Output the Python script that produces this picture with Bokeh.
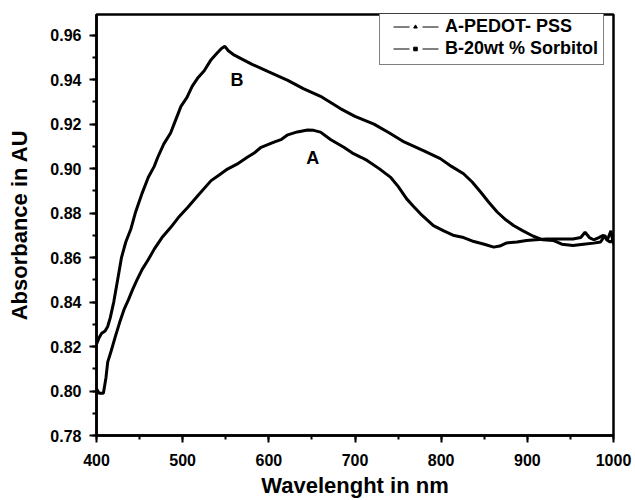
from bokeh.plotting import figure
from bokeh.models import (Range1d, SingleIntervalTicker, Legend, LegendItem,
                          NumeralTickFormatter, ColumnDataSource)
from bokeh.core.properties import value
from bokeh.embed import file_html
from bokeh.resources import INLINE

# ---- data ----
wl_a = [400, 403, 408, 411, 413, 417, 422, 427, 432, 437, 442, 447, 453, 460, 467,
        476, 486, 495, 506, 518, 533, 542, 552, 563, 575, 583, 591, 606, 614, 622,
        633, 645, 652, 660, 672, 687, 697, 707, 714, 728, 741, 750, 760, 768, 776,
        791, 803, 815, 826, 838, 850, 861, 868, 876, 888, 899, 910, 922, 940, 953,
        962, 967, 972, 977, 983, 988, 993, 997, 1000]
abs_a = [0.801, 0.799, 0.799, 0.806, 0.813, 0.818, 0.8247, 0.831, 0.8367, 0.841,
         0.8457, 0.850, 0.8547, 0.859, 0.8638, 0.869, 0.8735, 0.878, 0.8826, 0.888,
         0.8946, 0.897, 0.8998, 0.902, 0.9051, 0.907, 0.9096, 0.9119, 0.913, 0.9152,
         0.9165, 0.9174, 0.9172, 0.9164, 0.913, 0.9096, 0.907, 0.9051, 0.9037, 0.900,
         0.8962, 0.892, 0.8864, 0.883, 0.8797, 0.8744, 0.872, 0.8699, 0.869, 0.8672,
         0.866, 0.8647, 0.8652, 0.8666, 0.867, 0.8677, 0.868, 0.8684, 0.8684, 0.8684,
         0.869, 0.8714, 0.869, 0.868, 0.869, 0.870, 0.868, 0.872, 0.866]

wl_b = [400, 403, 406, 410, 413, 416, 420, 425, 429, 434, 440, 445, 453, 460, 467,
        471, 478, 486, 490, 498, 505, 511, 518, 525, 533, 540, 545, 549, 553, 560,
        580, 600, 622, 640, 660, 683, 700, 722, 740, 757, 780, 799, 812, 826, 836,
        846, 855, 865, 875, 884, 895, 907, 918, 930, 940, 953, 965, 977, 985, 990,
        992, 996, 1000]
abs_b = [0.821, 0.824, 0.826, 0.827, 0.829, 0.833, 0.840, 0.851, 0.860, 0.867,
         0.873, 0.880, 0.889, 0.896, 0.901, 0.905, 0.911, 0.916, 0.920, 0.928,
         0.932, 0.937, 0.941, 0.944, 0.949, 0.952, 0.954, 0.955, 0.953, 0.951,
         0.947, 0.9435, 0.9397, 0.936, 0.9325, 0.927, 0.9235, 0.920, 0.916, 0.912,
         0.908, 0.9045, 0.901, 0.8977, 0.894, 0.8894, 0.885, 0.8805, 0.877, 0.8744,
         0.872, 0.8696, 0.868, 0.8677, 0.866, 0.8654, 0.866, 0.8665, 0.867, 0.870,
         0.868, 0.867, 0.868]

curve_labels = ["A", "B"]
curve_label_x = [651, 563]
curve_label_y = [0.905, 0.940]

legend_labels = ["A-PEDOT- PSS", "B-20wt % Sorbitol"]

FONT = "Liberation Sans"
NAN = float("nan")

p = figure(width=635, height=500, output_backend="svg", toolbar_location=None,
           x_range=Range1d(400, 1000), y_range=Range1d(0.78, 0.9693),
           min_border_left=96, min_border_right=22, min_border_top=14,
           min_border_bottom=65)
p.background_fill_color = "white"
p.border_fill_color = "white"
p.grid.visible = False
p.outline_line_color = "black"
p.outline_line_width = 2.5

p.line(wl_a, abs_a, line_color="black", line_width=3)
p.line(wl_b, abs_b, line_color="black", line_width=3)

src = ColumnDataSource(dict(x=curve_label_x, y=curve_label_y, t=curve_labels))
p.text(x="x", y="y", text="t", source=src, text_align="center",
       text_baseline="middle", text_font=value(FONT), text_font_style="bold",
       text_font_size="18px", text_color="black")

# legend-only renderers (no visible data)
dash = "0 8 16 13 16 100"
la = p.line([NAN], [NAN], line_color="black", line_width=1, line_dash=dash)
ma = p.scatter([NAN], [NAN], marker="triangle", size=4, color="black")
lb = p.line([NAN], [NAN], line_color="black", line_width=1, line_dash=dash)
mb = p.scatter([NAN], [NAN], marker="square", size=3, color="black")

legend = Legend(items=[LegendItem(label=legend_labels[0], renderers=[la, ma]),
                       LegendItem(label=legend_labels[1], renderers=[lb, mb])],
                location=(283, 370))
legend.label_text_font = FONT
legend.label_text_font_style = "bold"
legend.label_text_font_size = "18px"
legend.label_text_color = "black"
legend.glyph_width = 60
legend.glyph_height = 9
legend.label_height = 20
legend.label_standoff = 0
legend.spacing = 1
legend.padding = 5
legend.border_line_color = "black"
legend.border_line_width = 1
legend.background_fill_color = "white"
legend.background_fill_alpha = 1
p.add_layout(legend, "center")

xa = p.xaxis[0]
xa.ticker = SingleIntervalTicker(interval=100, num_minor_ticks=2)
ya = p.yaxis[0]
ya.ticker = SingleIntervalTicker(interval=0.02, num_minor_ticks=2)
ya.formatter = NumeralTickFormatter(format="0.00")

for ax in (xa, ya):
    ax.axis_line_width = 2.5
    ax.axis_line_color = "black"
    ax.major_tick_out = 7
    ax.major_tick_in = 0
    ax.minor_tick_out = 4
    ax.minor_tick_in = 0
    ax.major_tick_line_width = 2
    ax.minor_tick_line_width = 2
    ax.major_tick_line_color = "black"
    ax.minor_tick_line_color = "black"
    ax.major_label_text_font = FONT
    ax.major_label_text_font_style = "bold"
    ax.major_label_text_font_size = "16px"
    ax.major_label_text_color = "black"
    ax.axis_label_text_font = FONT
    ax.axis_label_text_font_style = "bold"
    ax.axis_label_text_font_size = "22px"
    ax.axis_label_text_color = "black"

xa.axis_label = "Wavelenght in nm"
ya.axis_label = "Absorbance in AU"
xa.major_label_standoff = 11
xa.axis_label_standoff = 4
ya.major_label_standoff = 8
ya.axis_label_standoff = 15

open("out.html", "w").write(file_html(p, INLINE))
